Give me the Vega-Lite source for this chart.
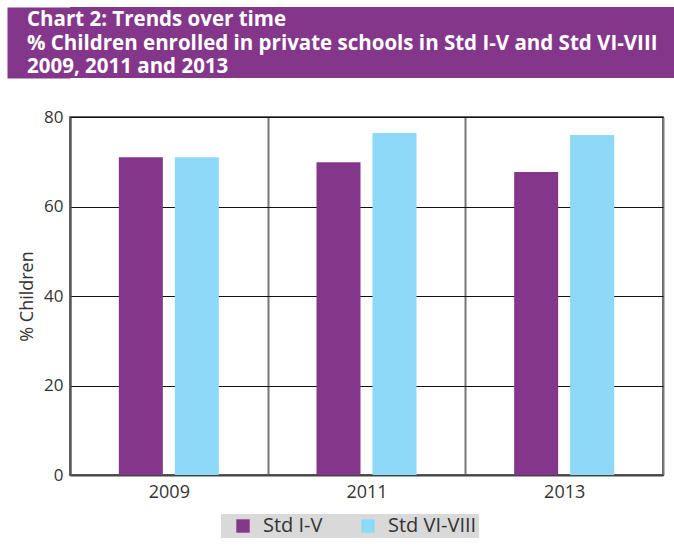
{
  "$schema": "https://vega.github.io/schema/vega-lite/v6.json",
  "padding": {"left": 7, "top": 7, "right": 0, "bottom": 0},
  "background": "white",
  "columns": 1,
  "align": "none",
  "spacing": 29,
  "config": {
    "font": "Open Sans",
    "axis": {"labelColor": "#333333", "titleColor": "#333333"}
  },
  "concat": [
    {
      "width": 604,
      "height": 71,
      "view": {"fill": "#84378A", "stroke": null},
      "data": {"values": [
        {"line": 1, "text": "Chart 2: Trends over time"},
        {"line": 2, "text": "% Children enrolled in private schools in Std I-V and Std VI-VIII"},
        {"line": 3, "text": "2009, 2011 and 2013"}
      ]},
      "mark": {"type": "text", "align": "left", "baseline": "middle", "font": "Open Sans", "fontWeight": "bold", "fontSize": 20.5, "color": "white", "dx": -43, "dy": 1},
      "encoding": {
        "x": {"datum": 0, "type": "quantitative", "scale": {"domain": [0, 1]}, "axis": null},
        "y": {
          "field": "line", "type": "ordinal",
          "axis": {
            "title": null, "labels": false, "ticks": false, "grid": false,
            "domain": true, "domainColor": "#84378A", "domainWidth": 63, "offset": 31.5, "domainCap": "butt"
          }
        },
        "text": {"field": "text"}
      }
    },
    {
      "width": 593,
      "height": 358,
      "view": {"stroke": "#333333", "strokeWidth": 1.5},
      "data": {"values": [
        {"year": "2009", "grade": "Std I-V", "pct": 71.0},
        {"year": "2009", "grade": "Std VI-VIII", "pct": 71.0},
        {"year": "2011", "grade": "Std I-V", "pct": 69.9},
        {"year": "2011", "grade": "Std VI-VIII", "pct": 76.4},
        {"year": "2013", "grade": "Std I-V", "pct": 67.7},
        {"year": "2013", "grade": "Std VI-VIII", "pct": 76.0}
      ]},
      "mark": {"type": "bar"},
      "encoding": {
        "x": {
          "field": "year", "type": "nominal",
          "scale": {"paddingInner": 0, "paddingOuter": 0},
          "axis": {
            "title": null, "labelAngle": 0, "labelFontSize": 18, "labelPadding": 8,
            "ticks": false, "tickBand": "extent",
            "grid": true, "gridColor": "#777777", "gridWidth": 2,
            "domainColor": "#444444", "domainWidth": 2
          }
        },
        "xOffset": {
          "field": "grade", "type": "nominal",
          "scale": {"paddingInner": 0.214, "paddingOuter": 0.872}
        },
        "y": {
          "field": "pct", "type": "quantitative",
          "scale": {"domain": [0, 80], "nice": false},
          "axis": {
            "title": "% Children", "titleFontSize": 18, "titleFontWeight": "normal", "titleX": -34,
            "values": [0, 20, 40, 60, 80],
            "labelFontSize": 17, "labelPadding": -54,
            "tickSize": 61, "tickColor": "transparent",
            "grid": true, "gridColor": "#111111", "gridWidth": 1,
            "domainColor": "#555555", "domainWidth": 2
          }
        },
        "color": {
          "field": "grade", "type": "nominal",
          "scale": {"domain": ["Std I-V", "Std VI-VIII"], "range": ["#84378A", "#8ED8F8"]},
          "legend": {
            "orient": "none", "legendX": 151, "legendY": 507,
            "direction": "horizontal", "columns": 2, "gridAlign": "all",
            "title": " ", "titleOrient": "left", "titlePadding": 10, "titleFontSize": 6,
            "fillColor": "#D9D9DA", "padding": 2,
            "symbolType": "square", "symbolSize": 180, "symbolStrokeWidth": 0, "symbolOpacity": 1,
            "labelFontSize": 20, "labelColor": "#333333", "labelOffset": 10,
            "columnPadding": 6
          }
        }
      }
    }
  ]
}
